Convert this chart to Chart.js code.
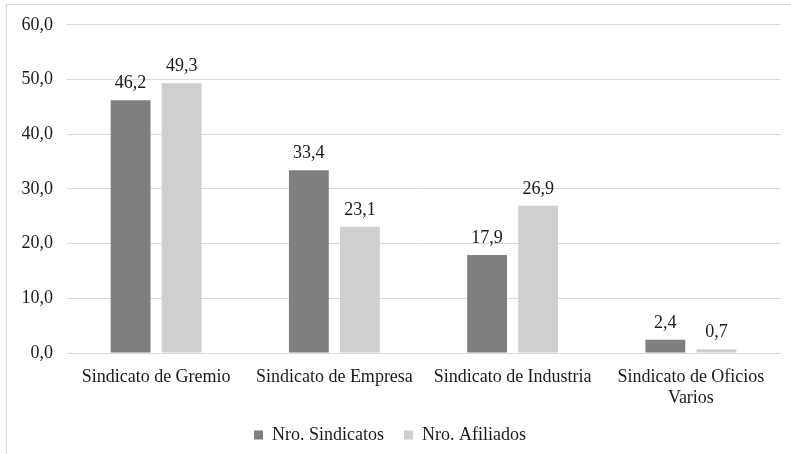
<!DOCTYPE html>
<html lang="es">
<head>
  <meta charset="UTF-8">
  <title>Sindicatos y afiliados por tipo</title>
  <script src="https://cdn.jsdelivr.net/npm/chart.js"></script>
  <style>
    body, html {
      margin: 0;
      width: 791px;
      height: 454px;
      overflow: hidden;
      background: #fff;
    }
    #frame {
      position: absolute;
      left: 6px;
      top: 4px;
      width: 900px;
      height: 600px;
      border: 1px solid #d9d9d9;
    }
    #wrap {
      position: absolute;
      left: 0;
      top: 0;
      width: 791px;
      height: 454px;
    }
  </style>
</head>
<body>
  <div id="frame"></div>
  <div id="wrap"><canvas id="chart"></canvas></div>

  <script>
    // categories and percentages per union type
    var categories = ['Sindicato de Gremio', 'Sindicato de Empresa', 'Sindicato de Industria', ['Sindicato de Oficios', 'Varios']];
    var sindicatos = [46.2, 33.4, 17.9, 2.4];
    var afiliados = [49.3, 23.1, 26.9, 0.7];
    var yTicks = [0, 10, 20, 30, 40, 50, 60];

    var serif = '"Liberation Serif", "Times New Roman", serif';

    function fmt(v) {
      return v.toFixed(1).replace('.', ',');
    }

    // draws the value above every bar
    var valueLabels = {
      id: 'valueLabels',
      afterDatasetsDraw: function(chart) {
        var ctx = chart.ctx;
        ctx.save();
        ctx.font = '18px ' + serif;
        ctx.fillStyle = '#1a1a1a';
        ctx.textAlign = 'center';
        ctx.textBaseline = 'alphabetic';
        chart.data.datasets.forEach(function(ds, i) {
          chart.getDatasetMeta(i).data.forEach(function(bar, j) {
            ctx.fillText(fmt(ds.data[j]), bar.x, bar.y - 12);
          });
        });
        ctx.restore();
      }
    };

    new Chart(document.getElementById('chart'), {
      type: 'bar',
      data: {
        labels: categories,
        datasets: [{
          label: 'Nro. Sindicatos',
          data: sindicatos,
          backgroundColor: '#7f7f7f',
          categoryPercentage: 0.573,
          barPercentage: 0.78
        }, {
          label: 'Nro. Afiliados',
          data: afiliados,
          backgroundColor: '#d0cfcf',
          categoryPercentage: 0.573,
          barPercentage: 0.78
        }]
      },
      options: {
        responsive: true,
        maintainAspectRatio: false,
        animation: false,
        layout: { padding: { top: 15, right: 11, left: 0, bottom: 0 } },
        scales: {
          x: {
            grid: { display: false },
            border: { color: '#d9d9d9' },
            ticks: {
              color: '#1a1a1a',
              font: { family: serif, size: 18 },
              maxRotation: 0,
              padding: 5
            },
            afterFit: function(scale) { scale.height = 53; }
          },
          y: {
            min: 0,
            max: 60,
            afterBuildTicks: function(scale) {
              scale.ticks = yTicks.map(function(v) { return { value: v }; });
            },
            grid: { color: '#d9d9d9', drawTicks: false },
            border: { display: false },
            ticks: {
              color: '#1a1a1a',
              font: { family: serif, size: 18 },
              padding: 14,
              callback: function(v) { return fmt(v); }
            },
            afterFit: function(scale) { scale.width = 67; }
          }
        },
        plugins: {
          legend: {
            position: 'bottom',
            labels: {
              color: '#1a1a1a',
              font: { family: serif, size: 18 },
              boxWidth: 9,
              boxHeight: 9,
              padding: 20
            }
          },
          tooltip: { enabled: false }
        }
      },
      plugins: [valueLabels]
    });
  </script>
</body>
</html>
